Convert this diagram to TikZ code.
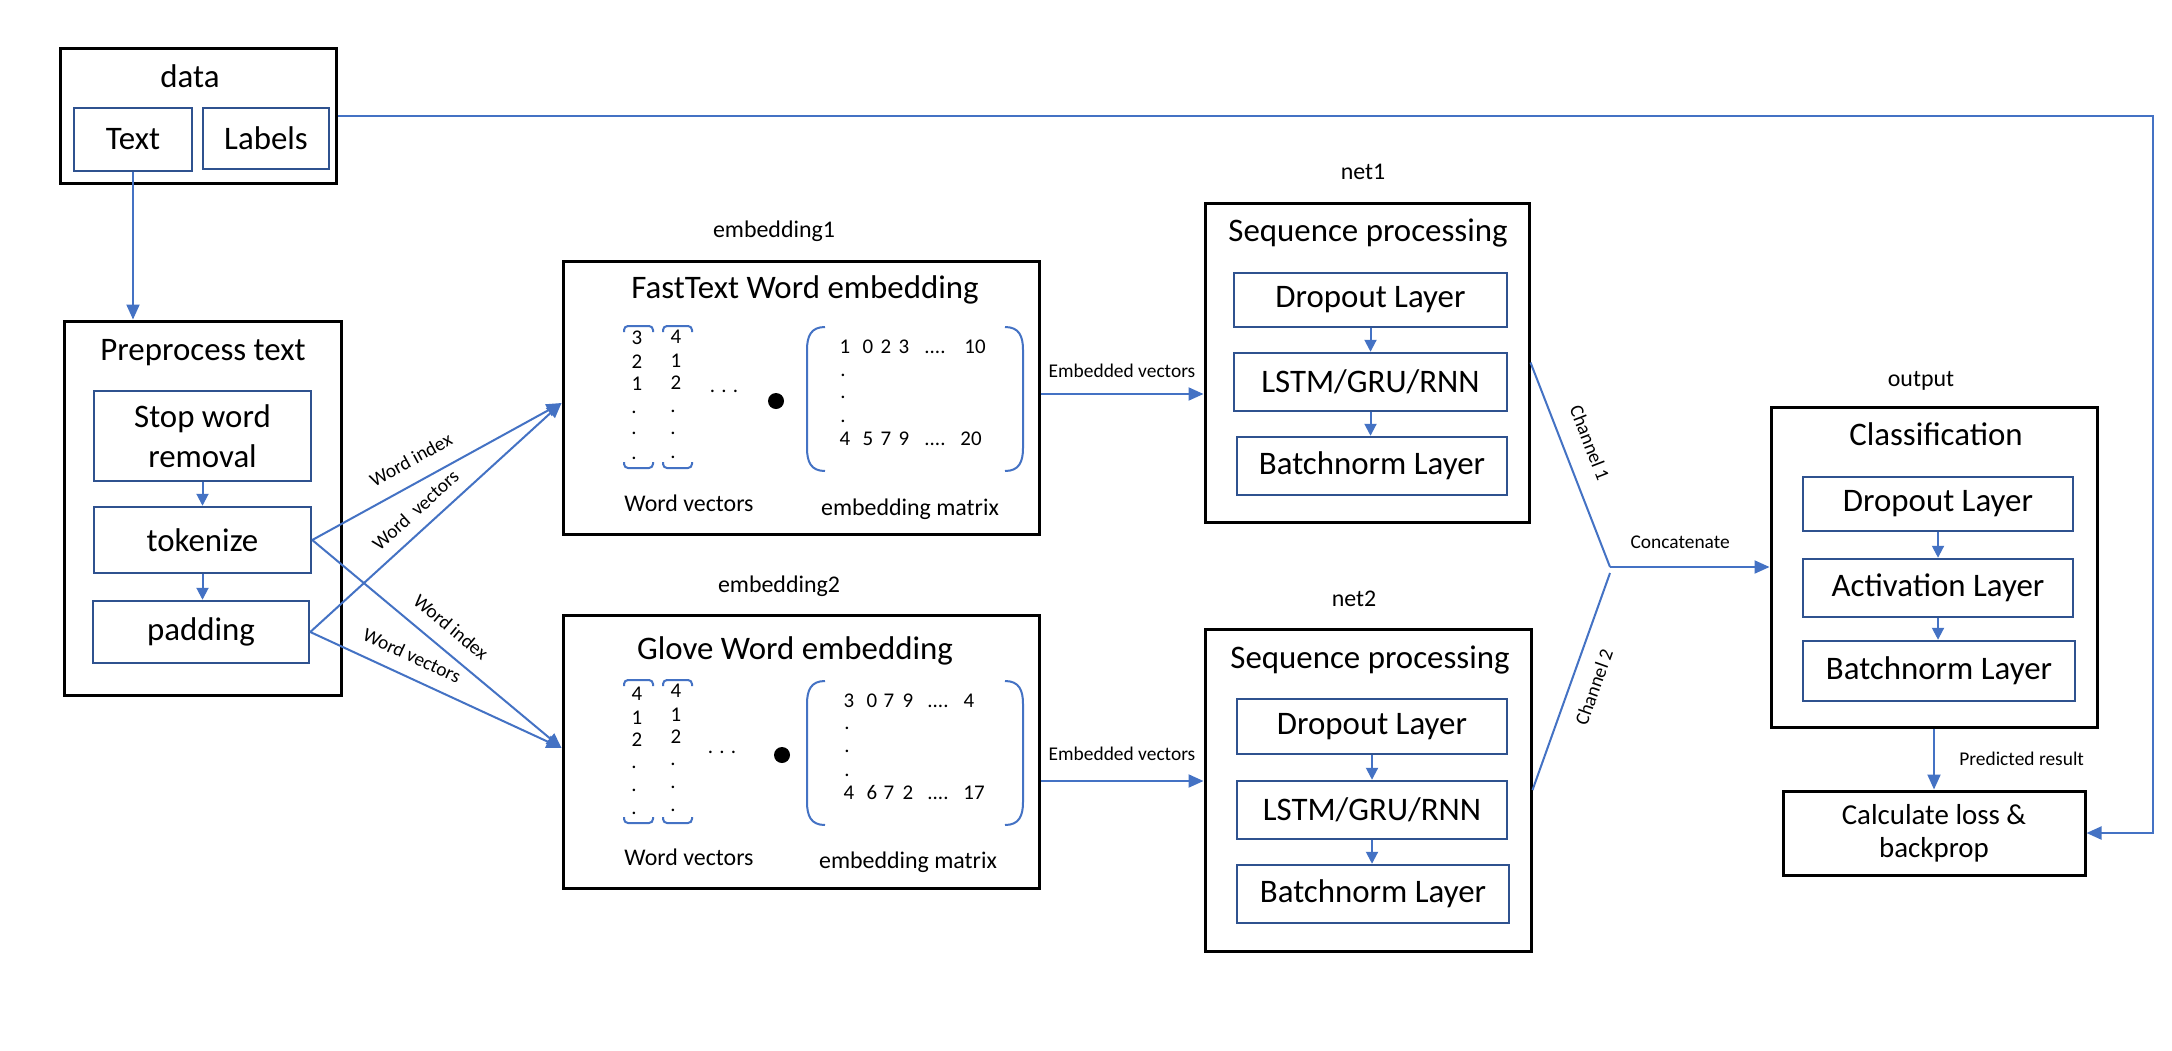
\documentclass[tikz,border=0pt]{standalone}
\usepackage{fontspec}
\setmainfont{Carlito}
\usetikzlibrary{arrows.meta,calc}
\definecolor{boxblue}{RGB}{47,82,143}
\definecolor{lineblue}{RGB}{68,114,196}
\newcommand\fbig{\fontsize{33}{40}\selectfont}
\newcommand\fmid{\fontsize{29}{33}\selectfont}
\newcommand\fsm{\fontsize{24}{28}\selectfont}
\newcommand\fnum{\fontsize{21}{25}\selectfont}
\newcommand\flab{\fontsize{19.5}{23}\selectfont}
\begin{document}
\begin{tikzpicture}[x=1bp,y=-1bp,
 outer/.style={draw=black, line width=3bp, inner sep=0pt},
 inner/.style={draw=boxblue, line width=2.5bp, inner sep=0pt, font=\fbig, align=center},
 conn/.style={draw=lineblue, line width=2bp},
 arr/.style={conn, -{Triangle[length=15bp,width=13bp]}},
 sarr/.style={conn, -{Triangle[length=12bp,width=12bp]}},
 brk/.style={draw=lineblue, line width=2bp},
 ttl/.style={font=\fbig, inner sep=0pt, anchor=base},
 sml/.style={font=\fsm, inner sep=0pt, anchor=base},
 num/.style={font=\fnum, inner sep=0pt, anchor=base},
 lab/.style={font=\flab},
]
\fill[white] (0,0) rectangle (2172,1050);
\useasboundingbox (0,0) rectangle (2172,1050);

% ---------- data ----------
\node[outer, minimum width=275bp, minimum height=135bp] (data) at (198.5,115.5) {};
\node[ttl] (datat) at (190,87) {data};
\node[inner, minimum width=118bp, minimum height=63bp] (textb) at (133,139.5) {Text};
\node[inner, minimum width=126bp, minimum height=61bp] (labels) at (266,138.5) {Labels};

% ---------- preprocess ----------
\node[outer, minimum width=276bp, minimum height=374bp] (prep) at (203,508) {};
\node[ttl] (prept) at (203,360) {Preprocess text};
\node[inner, minimum width=217bp, minimum height=90bp] (stop) at (202.5,436) {Stop word\\removal};
\node[inner, minimum width=217bp, minimum height=66bp] (tok) at (202.5,540) {tokenize};
\node[inner, minimum width=216bp, minimum height=62bp] (pad) at (201,632) {padding};

% ---------- embedding 1 ----------
\node[sml] (emb1l) at (774,237) {embedding1};
\node[outer, minimum width=476bp, minimum height=273bp] (emb1) at (801,397.5) {};
\node[ttl] (emb1t) at (805,298) {FastText Word embedding};
\draw[brk, rounded corners=4bp] (624,332) -- (624,326) -- (653,326) -- (653,332);
\draw[brk, rounded corners=4bp] (624,462) -- (624,468) -- (653,468) -- (653,462);
\draw[brk, rounded corners=4bp] (663,332) -- (663,326) -- (692,326) -- (692,332);
\draw[brk, rounded corners=4bp] (663,462) -- (663,468) -- (692,468) -- (692,462);
\node[num] (a1) at (637,344) {3};
\node[num] (a2) at (637,368) {2};
\node[num] (a3) at (637,390) {1};
\node[num] (a4) at (634,413.5) {.};
\node[num] (a5) at (634,434.5) {.};
\node[num] (a6) at (634,459.5) {.};
\node[num] (b1) at (676,343) {4};
\node[num] (b2) at (676,367) {1};
\node[num] (b3) at (676,389) {2};
\node[num] (b4) at (673,412.5) {.};
\node[num] (b5) at (673,434.5) {.};
\node[num] (b6) at (673,458.5) {.};
\node[num] (c1) at (724,392.5) {. . .};
\fill (776,401) circle (8bp);
\draw[brk] (825,327) .. controls (811,327) and (807,336) .. (807,350) -- (807,448) .. controls (807,462) and (811,471) .. (825,471);
\draw[brk] (1005,327) .. controls (1019,327) and (1023,336) .. (1023,350) -- (1023,448) .. controls (1023,462) and (1019,471) .. (1005,471);
\node[num] (m1) at (845,353) {1};
\node[num] (m2) at (868,353) {0};
\node[num] (m3) at (886,353) {2};
\node[num] (m4) at (904,353) {3};
\node[num] (m5) at (935,353) {....};
\node[num] (m6) at (975,353) {10};
\node[num] (m7) at (843,376.5) {.};
\node[num] (m8) at (843,398.5) {.};
\node[num] (m9) at (843,422.5) {.};
\node[num] (n1) at (845,445) {4};
\node[num] (n2) at (868,445) {5};
\node[num] (n3) at (886,445) {7};
\node[num] (n4) at (904,445) {9};
\node[num] (n5) at (935,445) {....};
\node[num] (n6) at (971,445) {20};
\node[sml] (wv1) at (689,511) {Word vectors};
\node[sml] (em1) at (910,515) {embedding matrix};

% ---------- embedding 2 ----------
\node[sml] (emb2l) at (779,592) {embedding2};
\node[outer, minimum width=476bp, minimum height=273bp] (emb2) at (801,751.5) {};
\node[ttl] (emb2t) at (795,659) {Glove Word embedding};
\draw[brk, rounded corners=4bp] (624,686) -- (624,680) -- (653,680) -- (653,686);
\draw[brk, rounded corners=4bp] (624,817) -- (624,823) -- (653,823) -- (653,817);
\draw[brk, rounded corners=4bp] (663,686) -- (663,680) -- (692,680) -- (692,686);
\draw[brk, rounded corners=4bp] (663,817) -- (663,823) -- (692,823) -- (692,817);
\node[num] (d1) at (637,700) {4};
\node[num] (d2) at (637,724) {1};
\node[num] (d3) at (637,746) {2};
\node[num] (d4) at (634,768.5) {.};
\node[num] (d5) at (634,791.5) {.};
\node[num] (d6) at (634,814.5) {.};
\node[num] (e1) at (676,697) {4};
\node[num] (e2) at (676,721) {1};
\node[num] (e3) at (676,743) {2};
\node[num] (e4) at (673,765.5) {.};
\node[num] (e5) at (673,788.5) {.};
\node[num] (e6) at (673,811.5) {.};
\node[num] (f1) at (722,753.5) {. . .};
\fill (782,755) circle (8bp);
\draw[brk] (825,681) .. controls (811,681) and (807,690) .. (807,704) -- (807,802) .. controls (807,816) and (811,825) .. (825,825);
\draw[brk] (1005,681) .. controls (1019,681) and (1023,690) .. (1023,704) -- (1023,802) .. controls (1023,816) and (1019,825) .. (1005,825);
\node[num] (p1) at (849,707) {3};
\node[num] (p2) at (872,707) {0};
\node[num] (p3) at (889,707) {7};
\node[num] (p4) at (908,707) {9};
\node[num] (p5) at (938,707) {....};
\node[num] (p6) at (969,707) {4};
\node[num] (p7) at (847,729.5) {.};
\node[num] (p8) at (847,752.5) {.};
\node[num] (p9) at (847,776.5) {.};
\node[num] (q1) at (849,799) {4};
\node[num] (q2) at (872,799) {6};
\node[num] (q3) at (889,799) {7};
\node[num] (q4) at (908,799) {2};
\node[num] (q5) at (938,799) {....};
\node[num] (q6) at (974,799) {17};
\node[sml] (wv2) at (689,865) {Word vectors};
\node[sml] (em2) at (908,868) {embedding matrix};

% ---------- net1 ----------
\node[sml] (net1l) at (1363,179) {net1};
\node[outer, minimum width=324bp, minimum height=319bp] (net1) at (1367,362.5) {};
\node[ttl] (net1t) at (1368,241) {Sequence processing};
\node[inner, minimum width=273bp, minimum height=54bp] (d1a) at (1370.5,300) {Dropout Layer};
\node[inner, minimum width=273bp, minimum height=58bp] (l1a) at (1370.5,382) {LSTM/GRU/RNN};
\node[inner, minimum width=270bp, minimum height=58bp] (b1a) at (1372,466) {Batchnorm Layer};

% ---------- net2 ----------
\node[sml] (net2l) at (1354,606) {net2};
\node[outer, minimum width=326bp, minimum height=322bp] (net2) at (1368,790) {};
\node[ttl] (net2t) at (1370,668) {Sequence processing};
\node[inner, minimum width=270bp, minimum height=55bp] (d2a) at (1372,726.5) {Dropout Layer};
\node[inner, minimum width=270bp, minimum height=58bp] (l2a) at (1372,810) {LSTM/GRU/RNN};
\node[inner, minimum width=272bp, minimum height=58bp] (b2a) at (1373,894) {Batchnorm Layer};

% ---------- output ----------
\node[sml] (outl) at (1921,386) {output};
\node[outer, minimum width=326bp, minimum height=320bp] (output) at (1934,567) {};
\node[ttl] (outt) at (1936,445) {Classification};
\node[inner, minimum width=270bp, minimum height=54bp] (d3a) at (1938,504) {Dropout Layer};
\node[inner, minimum width=270bp, minimum height=58bp] (a3a) at (1938,588) {Activation Layer};
\node[inner, minimum width=272bp, minimum height=60bp] (b3a) at (1939,671) {Batchnorm Layer};
\node[outer, minimum width=302bp, minimum height=84bp, font=\fmid, align=center] (loss) at (1934,833) {Calculate loss \&\\backprop};

% ---------- connectors ----------
\draw[arr] (textb.south) -- (textb.south |- prep.north);
\draw[sarr] (stop.south) -- (stop.south |- tok.north);
\draw[sarr] (tok.south) -- (tok.south |- pad.north);
\draw[sarr] (d1a.south) -- (d1a.south |- l1a.north);
\draw[sarr] (l1a.south) -- (l1a.south |- b1a.north);
\draw[sarr] (d2a.south) -- (d2a.south |- l2a.north);
\draw[sarr] (l2a.south) -- (l2a.south |- b2a.north);
\draw[sarr] (d3a.south) -- (d3a.south |- a3a.north);
\draw[sarr] (a3a.south) -- (a3a.south |- b3a.north);

\path (emb1.west) ++(0,5.5) coordinate (e1in);
\path (emb2.west) ++(0,-3.5) coordinate (e2in);
\draw[arr] (tok.east) -- node[lab, sloped, above=12bp, pos=0.44]{Word index} (e1in);
\draw[arr] (pad.east) -- node[lab, sloped, above=8bp, pos=0.47]{Word~ vectors} (e1in);
\draw[arr] (tok.east) -- node[lab, sloped, above=11bp, pos=0.5]{Word index} (e2in);
\draw[arr] (pad.east) -- node[lab, sloped, above=10bp, pos=0.37]{Word vectors} (e2in);

\coordinate (ev1) at (0,394);
\coordinate (ev2) at (0,781);
\draw[arr] (emb1.east |- ev1) -- node[lab, above=12.5bp]{Embedded vectors} (net1.west |- ev1);
\draw[arr] (emb2.east |- ev2) -- node[lab, above=16.5bp]{Embedded vectors} (net2.west |- ev2);

\coordinate (jn) at (1610,567);
\coordinate (jn2) at (1610,573);
\draw[conn] (net1.east) -- node[lab, sloped, above=15bp, pos=0.44]{Channel 1} (jn);
\draw[conn] (net2.east) -- node[lab, sloped, below=12bp, pos=0.51]{Channel 2} (jn2);
\draw[arr] (jn) -- node[lab, above=14.5bp, pos=0.44]{Concatenate} (output.west);

\draw[arr] (output.south) -- node[lab, right=21bp]{Predicted result} (loss.north);

\coordinate (fbtop) at (2153,115.5);
\draw[arr] (data.east) -- (fbtop) |- (loss.east);
\end{tikzpicture}
\end{document}
